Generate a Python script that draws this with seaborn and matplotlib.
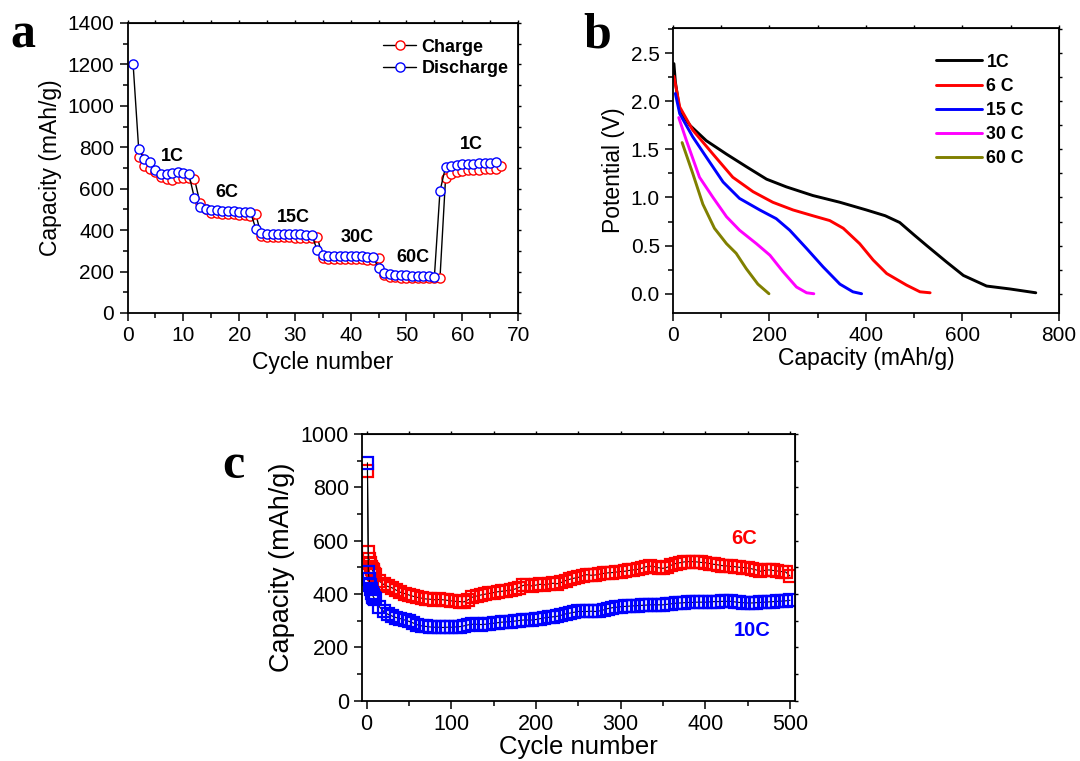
import numpy as np
import pandas as pd
import matplotlib
matplotlib.use('Agg')
import matplotlib.pyplot as plt
from matplotlib.ticker import MultipleLocator
import seaborn as sns

# ---------------- data ----------------
# (a) rate capability, charge / discharge capacity (mAh/g)
discharge_cycle = np.arange(1, 67)
discharge_cap = [1200, 790, 743, 728, 688, 671, 669, 677, 681, 677, 669,
                 553, 510, 500, 497, 495, 494, 492, 490, 489, 487, 489,
                 406, 385, 381, 381, 380, 380, 380, 379, 379, 378, 378,
                 303, 281, 276, 276, 275, 275, 274, 274, 273, 272, 271,
                 216, 193, 187, 185, 184, 183, 181, 180, 179, 177, 176,
                 588, 705, 712, 716, 718, 720, 721, 722, 723, 726, 730]
charge_cycle = np.arange(2, 68)
charge_cap = [755, 708, 693, 680, 655, 645, 643, 650, 652, 650, 647,
              529, 500, 485, 482, 480, 478, 477, 475, 473, 470, 476,
              371, 367, 366, 366, 365, 365, 364, 364, 363, 362, 368,
              265, 262, 261, 261, 260, 260, 259, 259, 258, 258, 265,
              185, 173, 172, 171, 170, 170, 169, 169, 168, 168, 168,
              650, 673, 682, 686, 689, 691, 692, 693, 694, 696, 708]
rate_labels_a = ['1C', '6C', '15C', '30C', '60C', '1C']
rate_pos_a = [(8.1, 756), (17.8, 581), (29.8, 460), (41.1, 363), (51.1, 266), (61.6, 814)]

# (b) discharge profiles
cap_1c = [2, 5, 14, 35, 69, 111, 152, 194, 235, 290, 346, 401, 440, 470, 500, 526, 567, 602, 650, 698, 752]
v_1c = [2.39, 2.20, 1.90, 1.75, 1.59, 1.45, 1.32, 1.19, 1.11, 1.02, 0.95, 0.87, 0.81, 0.74, 0.61, 0.50, 0.33, 0.19, 0.08, 0.05, 0.01]
cap_6c = [2, 14, 41, 83, 124, 166, 207, 249, 290, 325, 353, 387, 415, 443, 484, 512, 533]
v_6c = [2.26, 1.94, 1.70, 1.45, 1.21, 1.06, 0.95, 0.87, 0.81, 0.76, 0.68, 0.52, 0.35, 0.21, 0.09, 0.02, 0.01]
cap_15c = [5, 14, 41, 69, 104, 138, 180, 214, 242, 277, 311, 346, 373, 391]
v_15c = [2.08, 1.87, 1.63, 1.42, 1.16, 0.99, 0.87, 0.78, 0.66, 0.47, 0.28, 0.10, 0.02, 0.0]
cap_30c = [12, 28, 55, 83, 111, 138, 173, 201, 228, 256, 277, 292]
v_30c = [1.83, 1.59, 1.21, 1.00, 0.80, 0.66, 0.52, 0.40, 0.23, 0.07, 0.01, 0.0]
cap_60c = [19, 41, 62, 86, 111, 131, 152, 176, 199]
v_60c = [1.57, 1.25, 0.93, 0.68, 0.52, 0.42, 0.26, 0.10, 0.0]
profile_labels = ['1C', '6 C', '15 C', '30 C', '60 C']
profile_colors = ['black', '#ff0000', '#0000ff', '#ff00ff', '#808000']

# (c) long cycling at 6C and 10C
cycle_c = np.concatenate([[1, 2, 3, 4, 5, 6, 7, 8, 9], np.arange(10, 501, 5)])
cap_6c_cyc = [862, 559, 530, 515, 500, 495, 488, 482, 476,
              470, 448, 436, 428, 423, 414, 406, 401, 396,
              391, 387, 384, 381, 380, 378, 379, 378, 376, 374,
              372, 371, 370, 378, 388, 392, 396, 399, 402, 405,
              408, 410, 412, 414, 418, 424, 432, 434, 430, 433,
              436, 434, 437, 440, 438, 443, 450, 455, 459, 462,
              468, 472, 470, 471, 474, 477, 479, 480, 482, 484,
              485, 488, 490, 492, 496, 502, 504, 502, 498, 496,
              500, 508, 514, 517, 520, 521, 521, 520, 518, 517,
              514, 511, 509, 506, 505, 503, 502, 500, 499, 497,
              494, 490, 485, 488, 490, 488, 486, 484, 482, 467]
cap_10c_cyc = [892, 484, 455, 432, 418, 405, 396, 389, 384,
               380, 352, 335, 324, 317, 311, 307, 302, 297,
               291, 284, 280, 278, 276, 275, 275, 274, 275, 275,
               276, 277, 280, 284, 286, 286, 285, 286, 288, 290,
               292, 294, 295, 296, 298, 300, 302, 302, 302, 304,
               307, 310, 312, 314, 316, 320, 325, 328, 331, 334,
               334, 334, 335, 334, 336, 340, 345, 348, 350, 352,
               353, 354, 355, 356, 357, 358, 359, 359, 359, 359,
               361, 363, 365, 366, 367, 368, 368, 369, 369, 369,
               370, 371, 371, 372, 372, 372, 370, 368, 367, 366,
               366, 367, 368, 369, 370, 371, 372, 373, 374, 376]

# ---------------- style ----------------
sns.set_style('ticks')
plt.rcParams['font.family'] = ['Liberation Sans', 'DejaVu Sans']
plt.rcParams['axes.edgecolor'] = 'black'
plt.rcParams['xtick.color'] = 'black'
plt.rcParams['ytick.color'] = 'black'
plt.rcParams['text.color'] = 'black'
plt.rcParams['axes.labelcolor'] = 'black'


def style_axes(ax, xmaj, xmin, ymaj, ymin, labelsize=15):
    ax.xaxis.set_major_locator(MultipleLocator(xmaj))
    ax.xaxis.set_minor_locator(MultipleLocator(xmin))
    ax.yaxis.set_major_locator(MultipleLocator(ymaj))
    ax.yaxis.set_minor_locator(MultipleLocator(ymin))
    ax.tick_params(which='major', direction='out', length=6, width=1.1, labelsize=labelsize)
    ax.tick_params(which='minor', direction='out', length=3.5, width=1.1)
    for sp in ax.spines.values():
        sp.set_visible(True)
        sp.set_linewidth(1.3)
    # small mirror ticks on top / right
    top = ax.secondary_xaxis('top')
    top.xaxis.set_major_locator(MultipleLocator(xmaj))
    top.xaxis.set_minor_locator(MultipleLocator(xmin))
    top.tick_params(which='both', direction='out', length=2.5, width=1, labeltop=False)
    right = ax.secondary_yaxis('right')
    right.yaxis.set_major_locator(MultipleLocator(ymaj))
    right.yaxis.set_minor_locator(MultipleLocator(ymin))
    right.tick_params(which='both', direction='out', length=2.5, width=1, labelright=False)


fig = plt.figure(figsize=(10.8, 7.61), dpi=100)
ax_a = fig.add_axes([0.1181, 0.5887, 0.3616, 0.3811])
ax_b = fig.add_axes([0.6231, 0.5887, 0.3574, 0.3745])
ax_c = fig.add_axes([0.3352, 0.0795, 0.4009, 0.3502])

# ---------------- (a) ----------------
sns.lineplot(x=charge_cycle, y=charge_cap, ax=ax_a, color='black', linewidth=1,
             marker='o', markersize=6.6, markerfacecolor='white',
             markeredgecolor='#ff0000', markeredgewidth=1, label='Charge')
sns.lineplot(x=discharge_cycle, y=discharge_cap, ax=ax_a, color='black', linewidth=1,
             marker='o', markersize=6.6, markerfacecolor='white',
             markeredgecolor='#0000ff', markeredgewidth=1, label='Discharge')
ax_a.set_xlim(0, 70)
ax_a.set_ylim(0, 1400)
style_axes(ax_a, 10, 5, 200, 100)
ax_a.set_xlabel('Cycle number', fontsize=16.5)
ax_a.set_ylabel('Capacity (mAh/g)', fontsize=16.5)
for txt, (xx, yy) in zip(rate_labels_a, rate_pos_a):
    ax_a.text(xx, yy, txt, fontsize=13, fontweight='bold', ha='center', va='center')
ax_a.legend(loc='center left', bbox_to_anchor=(0.655, 0.879), frameon=False,
            prop={'weight': 'bold', 'size': 13}, handlelength=1.8, handletextpad=0.3,
            labelspacing=0.25, borderpad=0, borderaxespad=0)

# ---------------- (b) ----------------
profiles = [(cap_1c, v_1c), (cap_6c, v_6c), (cap_15c, v_15c), (cap_30c, v_30c), (cap_60c, v_60c)]
for (cx, vy), lab, col in zip(profiles, profile_labels, profile_colors):
    sns.lineplot(x=cx, y=vy, ax=ax_b, color=col, linewidth=2.1, sort=False, label=lab)
ax_b.set_xlim(0, 800)
ax_b.set_ylim(-0.2, 2.76)
style_axes(ax_b, 200, 100, 0.5, 0.25)
ax_b.yaxis.set_major_formatter(matplotlib.ticker.FormatStrFormatter('%.1f'))
ax_b.set_xlabel('Capacity (mAh/g)', fontsize=16.5, labelpad=1)
ax_b.set_ylabel('Potential (V)', fontsize=16.5)
ax_b.legend(loc='center left', bbox_to_anchor=(0.681, 0.711), frameon=False,
            prop={'weight': 'bold', 'size': 12.8}, handlelength=2.6, handletextpad=0.25,
            labelspacing=0.4, borderpad=0, borderaxespad=0)

# ---------------- (c) ----------------
sns.lineplot(x=cycle_c, y=cap_6c_cyc, ax=ax_c, color='black', linewidth=0.8,
             marker='s', markersize=8, markerfacecolor='none',
             markeredgecolor='#ff0000', markeredgewidth=1.6)
sns.lineplot(x=cycle_c, y=cap_10c_cyc, ax=ax_c, color='black', linewidth=0.8,
             marker='s', markersize=8, markerfacecolor='none',
             markeredgecolor='#0000ff', markeredgewidth=1.6)
ax_c.set_xlim(-5.4, 505.9)
ax_c.set_ylim(0, 1000)
style_axes(ax_c, 100, 50, 200, 100, labelsize=15.5)
ax_c.set_xlabel('Cycle number', fontsize=18.5, labelpad=0)
ax_c.set_ylabel('Capacity (mAh/g)', fontsize=19.5)
ax_c.text(446, 608, '6C', color='#ff0000', fontsize=14.5, fontweight='bold', ha='center', va='center')
ax_c.text(455, 261, '10C', color='#0000ff', fontsize=14.5, fontweight='bold', ha='center', va='center')

# panel letters
for letter, px, py in [('a', 10, 47), ('b', 583, 47), ('c', 222, 478)]:
    fig.text(px / 1080, 1 - py / 761, letter, fontsize=36, fontweight='bold',
             family=['Liberation Serif', 'DejaVu Serif'], ha='left', va='baseline')

fig.savefig('out.png', dpi=100)
